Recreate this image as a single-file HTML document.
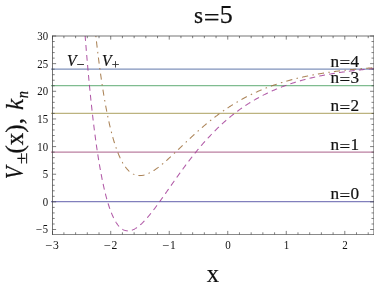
<!DOCTYPE html>
<html><head><meta charset="utf-8"><title>plot</title>
<style>
html,body{margin:0;padding:0;background:#fff;}
body{width:374px;height:287px;overflow:hidden;position:relative;font-family:"Liberation Serif",serif;}
</style></head><body>
<svg width="374" height="287" viewBox="0 0 374 287" style="display:block;position:absolute;left:0;top:0;will-change:transform">
<rect x="0" y="0" width="374" height="287" fill="#ffffff"/>
<defs><clipPath id="c"><rect x="52.5" y="36.0" width="321.2" height="198.5"/></clipPath></defs>
<line x1="51.00" y1="201.50" x2="374.70" y2="201.50" stroke="#3f3d99" stroke-width="1.25" stroke-opacity="0.66"/>
<line x1="51.00" y1="152.05" x2="374.70" y2="152.05" stroke="#993d71" stroke-width="1.25" stroke-opacity="0.66"/>
<line x1="51.00" y1="113.40" x2="374.70" y2="113.40" stroke="#998b3d" stroke-width="1.25" stroke-opacity="0.66"/>
<line x1="51.00" y1="85.50" x2="374.70" y2="85.50" stroke="#3d9956" stroke-width="1.25" stroke-opacity="0.66"/>
<line x1="51.00" y1="69.00" x2="374.70" y2="69.00" stroke="#3d5a99" stroke-width="1.25" stroke-opacity="0.66"/>
<g clip-path="url(#c)" fill="none">
<path d="M85.15,36.00 L85.64,42.10 L86.12,48.06 L86.60,53.88 L87.08,59.55 L87.56,65.09 L88.04,70.49 L88.53,75.76 L89.01,80.90 L89.49,85.91 L89.97,90.80 L90.45,95.56 L90.93,100.20 L91.41,104.73 L91.90,109.14 L92.38,113.43 L92.86,117.62 L93.34,121.69 L93.82,125.66 L94.30,129.52 L94.78,133.28 L95.27,136.94 L95.75,140.50 L96.23,143.97 L96.71,147.33 L97.19,150.61 L97.67,153.79 L98.16,156.88 L98.64,159.89 L99.12,162.81 L99.60,165.64 L100.08,168.39 L100.56,171.07 L101.04,173.66 L101.53,176.17 L102.01,178.61 L102.49,180.97 L102.97,183.26 L103.45,185.48 L103.93,187.62 L104.41,189.70 L104.90,191.71 L105.38,193.66 L105.86,195.53 L106.34,197.35 L106.82,199.10 L107.30,200.80 L107.79,202.43 L108.27,204.01 L108.75,205.52 L109.23,206.99 L109.71,208.39 L110.19,209.75 L110.67,211.05 L111.16,212.30 L111.64,213.49 L112.12,214.64 L112.60,215.75 L113.08,216.80 L113.56,217.81 L114.05,218.77 L114.53,219.69 L115.01,220.57 L115.49,221.40 L115.97,222.19 L116.45,222.94 L116.93,223.65 L117.42,224.33 L117.90,224.96 L118.38,225.56 L118.86,226.12 L119.34,226.65 L119.82,227.14 L120.30,227.60 L120.79,228.02 L121.27,228.41 L121.75,228.77 L122.23,229.10 L122.71,229.40 L123.19,229.67 L123.68,229.91 L124.16,230.13 L124.64,230.31 L125.12,230.47 L125.60,230.60 L126.08,230.71 L126.56,230.79 L127.05,230.85 L127.53,230.89 L128.01,230.90 L128.49,230.89 L128.97,230.85 L129.45,230.80 L129.93,230.72 L130.42,230.62 L130.90,230.51 L131.38,230.37 L131.86,230.21 L132.34,230.04 L132.82,229.85 L133.31,229.64 L133.79,229.41 L134.27,229.17 L134.75,228.91 L135.23,228.64 L135.71,228.35 L136.19,228.04 L136.68,227.72 L137.16,227.39 L137.64,227.04 L138.12,226.68 L138.60,226.30 L139.08,225.92 L139.56,225.52 L140.05,225.11 L140.53,224.68 L141.01,224.25 L141.49,223.81 L141.97,223.35 L142.45,222.88 L142.94,222.41 L143.42,221.92 L143.90,221.43 L144.38,220.93 L144.86,220.41 L145.34,219.89 L145.82,219.36 L146.31,218.83 L146.79,218.28 L147.27,217.73 L147.75,217.17 L148.23,216.61 L148.71,216.03 L149.20,215.45 L149.68,214.87 L150.16,214.28 L150.64,213.68 L151.12,213.08 L151.60,212.47 L152.08,211.86 L152.57,211.24 L153.05,210.62 L153.53,209.99 L154.01,209.36 L154.49,208.72 L154.97,208.08 L155.45,207.44 L155.94,206.80 L156.42,206.15 L156.90,205.49 L157.38,204.84 L157.86,204.18 L158.34,203.52 L158.83,202.85 L159.31,202.18 L159.79,201.52 L160.27,200.84 L160.75,200.17 L161.23,199.50 L161.71,198.82 L162.20,198.14 L162.68,197.46 L163.16,196.78 L163.64,196.10 L164.12,195.41 L164.60,194.73 L165.08,194.05 L165.57,193.36 L166.05,192.67 L166.53,191.99 L167.01,191.30 L167.49,190.61 L167.97,189.92 L168.46,189.24 L168.94,188.55 L169.42,187.86 L169.90,187.17 L170.38,186.48 L170.86,185.80 L171.34,185.11 L171.83,184.42 L172.31,183.74 L172.79,183.05 L173.27,182.37 L173.75,181.68 L174.23,181.00 L174.72,180.32 L175.20,179.64 L175.68,178.96 L176.16,178.28 L176.64,177.60 L177.12,176.93 L177.60,176.25 L178.09,175.58 L178.57,174.91 L179.05,174.24 L179.53,173.57 L180.01,172.90 L180.49,172.24 L180.97,171.57 L181.46,170.91 L181.94,170.25 L182.42,169.59 L182.90,168.94 L183.38,168.28 L183.86,167.63 L184.35,166.98 L184.83,166.33 L185.31,165.68 L185.79,165.04 L186.27,164.40 L186.75,163.76 L187.23,163.12 L187.72,162.48 L188.20,161.85 L188.68,161.22 L189.16,160.59 L189.64,159.96 L190.12,159.34 L190.60,158.72 L191.09,158.10 L191.57,157.48 L192.05,156.87 L192.53,156.26 L193.01,155.65 L193.49,155.04 L193.98,154.44 L194.46,153.83 L194.94,153.24 L195.42,152.64 L195.90,152.05 L196.38,151.46 L196.86,150.87 L197.35,150.28 L197.83,149.70 L198.31,149.12 L198.79,148.54 L199.27,147.97 L199.75,147.39 L200.24,146.83 L200.72,146.26 L201.20,145.69 L201.68,145.13 L202.16,144.58 L202.64,144.02 L203.12,143.47 L203.61,142.92 L204.09,142.37 L204.57,141.83 L205.05,141.29 L205.53,140.75 L206.01,140.21 L206.49,139.68 L206.98,139.15 L207.46,138.62 L207.94,138.10 L208.42,137.57 L208.90,137.06 L209.38,136.54 L209.87,136.03 L210.35,135.52 L210.83,135.01 L211.31,134.50 L211.79,134.00 L212.27,133.50 L212.75,133.01 L213.24,132.51 L213.72,132.02 L214.20,131.54 L214.68,131.05 L215.16,130.57 L215.64,130.09 L216.12,129.61 L216.61,129.14 L217.09,128.67 L217.57,128.20 L218.05,127.74 L218.53,127.27 L219.01,126.81 L219.50,126.36 L219.98,125.90 L220.46,125.45 L220.94,125.00 L221.42,124.56 L221.90,124.11 L222.38,123.67 L222.87,123.23 L223.35,122.80 L223.83,122.37 L224.31,121.94 L224.79,121.51 L225.27,121.08 L225.76,120.66 L226.24,120.24 L226.72,119.83 L227.20,119.41 L227.68,119.00 L228.16,118.59 L228.64,118.19 L229.13,117.78 L229.61,117.38 L230.09,116.99 L230.57,116.59 L231.05,116.20 L231.53,115.81 L232.01,115.42 L232.50,115.03 L232.98,114.65 L233.46,114.27 L233.94,113.89 L234.42,113.52 L234.90,113.14 L235.39,112.77 L235.87,112.41 L236.35,112.04 L236.83,111.68 L237.31,111.32 L237.79,110.96 L238.27,110.60 L238.76,110.25 L239.24,109.90 L239.72,109.55 L240.20,109.20 L240.68,108.86 L241.16,108.52 L241.64,108.18 L242.13,107.84 L242.61,107.51 L243.09,107.17 L243.57,106.84 L244.05,106.52 L244.53,106.19 L245.02,105.87 L245.50,105.55 L245.98,105.23 L246.46,104.91 L246.94,104.60 L247.42,104.28 L247.90,103.97 L248.39,103.67 L248.87,103.36 L249.35,103.06 L249.83,102.76 L250.31,102.46 L250.79,102.16 L251.28,101.86 L251.76,101.57 L252.24,101.28 L252.72,100.99 L253.20,100.70 L253.68,100.42 L254.16,100.14 L254.65,99.86 L255.13,99.58 L255.61,99.30 L256.09,99.02 L256.57,98.75 L257.05,98.48 L257.53,98.21 L258.02,97.94 L258.50,97.68 L258.98,97.42 L259.46,97.16 L259.94,96.90 L260.42,96.64 L260.91,96.38 L261.39,96.13 L261.87,95.88 L262.35,95.63 L262.83,95.38 L263.31,95.13 L263.79,94.89 L264.28,94.64 L264.76,94.40 L265.24,94.16 L265.72,93.93 L266.20,93.69 L266.68,93.46 L267.16,93.22 L267.65,92.99 L268.13,92.76 L268.61,92.54 L269.09,92.31 L269.57,92.09 L270.05,91.87 L270.54,91.64 L271.02,91.43 L271.50,91.21 L271.98,90.99 L272.46,90.78 L272.94,90.57 L273.42,90.35 L273.91,90.15 L274.39,89.94 L274.87,89.73 L275.35,89.53 L275.83,89.32 L276.31,89.12 L276.80,88.92 L277.28,88.72 L277.76,88.53 L278.24,88.33 L278.72,88.14 L279.20,87.94 L279.68,87.75 L280.17,87.56 L280.65,87.37 L281.13,87.19 L281.61,87.00 L282.09,86.82 L282.57,86.63 L283.05,86.45 L283.54,86.27 L284.02,86.09 L284.50,85.92 L284.98,85.74 L285.46,85.56 L285.94,85.39 L286.43,85.22 L286.91,85.05 L287.39,84.88 L287.87,84.71 L288.35,84.54 L288.83,84.38 L289.31,84.21 L289.80,84.05 L290.28,83.89 L290.76,83.73 L291.24,83.57 L291.72,83.41 L292.20,83.25 L292.68,83.10 L293.17,82.94 L293.65,82.79 L294.13,82.64 L294.61,82.49 L295.09,82.34 L295.57,82.19 L296.06,82.04 L296.54,81.89 L297.02,81.75 L297.50,81.61 L297.98,81.46 L298.46,81.32 L298.94,81.18 L299.43,81.04 L299.91,80.90 L300.39,80.76 L300.87,80.63 L301.35,80.49 L301.83,80.36 L302.32,80.22 L302.80,80.09 L303.28,79.96 L303.76,79.83 L304.24,79.70 L304.72,79.57 L305.20,79.45 L305.69,79.32 L306.17,79.19 L306.65,79.07 L307.13,78.95 L307.61,78.82 L308.09,78.70 L308.57,78.58 L309.06,78.46 L309.54,78.34 L310.02,78.23 L310.50,78.11 L310.98,77.99 L311.46,77.88 L311.95,77.76 L312.43,77.65 L312.91,77.54 L313.39,77.43 L313.87,77.32 L314.35,77.21 L314.83,77.10 L315.32,76.99 L315.80,76.88 L316.28,76.78 L316.76,76.67 L317.24,76.57 L317.72,76.46 L318.20,76.36 L318.69,76.26 L319.17,76.16 L319.65,76.06 L320.13,75.96 L320.61,75.86 L321.09,75.76 L321.58,75.66 L322.06,75.57 L322.54,75.47 L323.02,75.37 L323.50,75.28 L323.98,75.19 L324.46,75.09 L324.95,75.00 L325.43,74.91 L325.91,74.82 L326.39,74.73 L326.87,74.64 L327.35,74.55 L327.84,74.46 L328.32,74.38 L328.80,74.29 L329.28,74.20 L329.76,74.12 L330.24,74.03 L330.72,73.95 L331.21,73.87 L331.69,73.78 L332.17,73.70 L332.65,73.62 L333.13,73.54 L333.61,73.46 L334.09,73.38 L334.58,73.30 L335.06,73.23 L335.54,73.15 L336.02,73.07 L336.50,73.00 L336.98,72.92 L337.47,72.84 L337.95,72.77 L338.43,72.70 L338.91,72.62 L339.39,72.55 L339.87,72.48 L340.35,72.41 L340.84,72.34 L341.32,72.27 L341.80,72.20 L342.28,72.13 L342.76,72.06 L343.24,71.99 L343.72,71.92 L344.21,71.86 L344.69,71.79 L345.17,71.72 L345.65,71.66 L346.13,71.59 L346.61,71.53 L347.10,71.47 L347.58,71.40 L348.06,71.34 L348.54,71.28 L349.02,71.22 L349.50,71.15 L349.98,71.09 L350.47,71.03 L350.95,70.97 L351.43,70.91 L351.91,70.85 L352.39,70.80 L352.87,70.74 L353.36,70.68 L353.84,70.62 L354.32,70.57 L354.80,70.51 L355.28,70.46 L355.76,70.40 L356.24,70.35 L356.73,70.29 L357.21,70.24 L357.69,70.18 L358.17,70.13 L358.65,70.08 L359.13,70.03 L359.61,69.97 L360.10,69.92 L360.58,69.87 L361.06,69.82 L361.54,69.77 L362.02,69.72 L362.50,69.67 L362.99,69.62 L363.47,69.57 L363.95,69.53 L364.43,69.48 L364.91,69.43 L365.39,69.38 L365.87,69.34 L366.36,69.29 L366.84,69.25 L367.32,69.20 L367.80,69.15 L368.28,69.11 L368.76,69.07 L369.24,69.02 L369.73,68.98 L370.21,68.93 L370.69,68.89 L371.17,68.85 L371.65,68.81 L372.13,68.76 L372.62,68.72 L373.10,68.68 L373.58,68.64 L374.06,68.60" stroke="#a33d98" stroke-width="1.05" stroke-dasharray="5.8 4.2" stroke-dashoffset="0.9" stroke-opacity="0.85"/>
<path d="M95.86,36.00 L96.32,40.15 L96.79,44.20 L97.25,48.16 L97.72,52.02 L98.18,55.80 L98.64,59.49 L99.11,63.09 L99.57,66.61 L100.03,70.05 L100.50,73.41 L100.96,76.68 L101.42,79.88 L101.89,83.00 L102.35,86.04 L102.82,89.01 L103.28,91.91 L103.74,94.73 L104.21,97.48 L104.67,100.17 L105.13,102.79 L105.60,105.34 L106.06,107.83 L106.53,110.25 L106.99,112.61 L107.45,114.91 L107.92,117.15 L108.38,119.33 L108.84,121.45 L109.31,123.51 L109.77,125.52 L110.23,127.47 L110.70,129.37 L111.16,131.22 L111.63,133.01 L112.09,134.76 L112.55,136.45 L113.02,138.10 L113.48,139.69 L113.94,141.24 L114.41,142.75 L114.87,144.21 L115.33,145.62 L115.80,147.00 L116.26,148.32 L116.73,149.61 L117.19,150.86 L117.65,152.06 L118.12,153.23 L118.58,154.36 L119.04,155.45 L119.51,156.50 L119.97,157.52 L120.44,158.50 L120.90,159.45 L121.36,160.36 L121.83,161.24 L122.29,162.09 L122.75,162.91 L123.22,163.69 L123.68,164.44 L124.14,165.16 L124.61,165.86 L125.07,166.52 L125.54,167.16 L126.00,167.76 L126.46,168.34 L126.93,168.90 L127.39,169.42 L127.85,169.93 L128.32,170.40 L128.78,170.86 L129.24,171.29 L129.71,171.69 L130.17,172.07 L130.64,172.43 L131.10,172.77 L131.56,173.09 L132.03,173.38 L132.49,173.66 L132.95,173.91 L133.42,174.15 L133.88,174.37 L134.35,174.56 L134.81,174.74 L135.27,174.90 L135.74,175.05 L136.20,175.17 L136.66,175.28 L137.13,175.37 L137.59,175.45 L138.05,175.51 L138.52,175.56 L138.98,175.59 L139.45,175.60 L139.91,175.61 L140.37,175.59 L140.84,175.57 L141.30,175.53 L141.76,175.48 L142.23,175.41 L142.69,175.34 L143.15,175.25 L143.62,175.15 L144.08,175.04 L144.55,174.91 L145.01,174.78 L145.47,174.63 L145.94,174.48 L146.40,174.31 L146.86,174.14 L147.33,173.95 L147.79,173.76 L148.26,173.55 L148.72,173.34 L149.18,173.12 L149.65,172.89 L150.11,172.66 L150.57,172.41 L151.04,172.16 L151.50,171.90 L151.96,171.63 L152.43,171.35 L152.89,171.07 L153.36,170.78 L153.82,170.49 L154.28,170.19 L154.75,169.88 L155.21,169.57 L155.67,169.25 L156.14,168.92 L156.60,168.59 L157.06,168.26 L157.53,167.92 L157.99,167.57 L158.46,167.22 L158.92,166.86 L159.38,166.51 L159.85,166.14 L160.31,165.77 L160.77,165.40 L161.24,165.03 L161.70,164.65 L162.17,164.26 L162.63,163.88 L163.09,163.49 L163.56,163.09 L164.02,162.70 L164.48,162.30 L164.95,161.90 L165.41,161.49 L165.87,161.08 L166.34,160.67 L166.80,160.26 L167.27,159.85 L167.73,159.43 L168.19,159.01 L168.66,158.59 L169.12,158.17 L169.58,157.74 L170.05,157.31 L170.51,156.89 L170.97,156.46 L171.44,156.03 L171.90,155.59 L172.37,155.16 L172.83,154.72 L173.29,154.29 L173.76,153.85 L174.22,153.41 L174.68,152.98 L175.15,152.54 L175.61,152.10 L176.08,151.66 L176.54,151.21 L177.00,150.77 L177.47,150.33 L177.93,149.89 L178.39,149.44 L178.86,149.00 L179.32,148.56 L179.78,148.11 L180.25,147.67 L180.71,147.23 L181.18,146.78 L181.64,146.34 L182.10,145.90 L182.57,145.45 L183.03,145.01 L183.49,144.57 L183.96,144.13 L184.42,143.68 L184.88,143.24 L185.35,142.80 L185.81,142.36 L186.28,141.92 L186.74,141.48 L187.20,141.05 L187.67,140.61 L188.13,140.17 L188.59,139.73 L189.06,139.30 L189.52,138.86 L189.98,138.43 L190.45,138.00 L190.91,137.57 L191.38,137.14 L191.84,136.71 L192.30,136.28 L192.77,135.85 L193.23,135.42 L193.69,135.00 L194.16,134.57 L194.62,134.15 L195.09,133.73 L195.55,133.31 L196.01,132.89 L196.48,132.47 L196.94,132.05 L197.40,131.64 L197.87,131.22 L198.33,130.81 L198.79,130.40 L199.26,129.99 L199.72,129.58 L200.19,129.17 L200.65,128.76 L201.11,128.36 L201.58,127.96 L202.04,127.55 L202.50,127.15 L202.97,126.76 L203.43,126.36 L203.89,125.96 L204.36,125.57 L204.82,125.18 L205.29,124.79 L205.75,124.40 L206.21,124.01 L206.68,123.62 L207.14,123.24 L207.60,122.86 L208.07,122.47 L208.53,122.10 L209.00,121.72 L209.46,121.34 L209.92,120.97 L210.39,120.59 L210.85,120.22 L211.31,119.85 L211.78,119.49 L212.24,119.12 L212.70,118.76 L213.17,118.39 L213.63,118.03 L214.10,117.67 L214.56,117.32 L215.02,116.96 L215.49,116.61 L215.95,116.26 L216.41,115.90 L216.88,115.56 L217.34,115.21 L217.80,114.86 L218.27,114.52 L218.73,114.18 L219.20,113.84 L219.66,113.50 L220.12,113.16 L220.59,112.83 L221.05,112.50 L221.51,112.17 L221.98,111.84 L222.44,111.51 L222.91,111.18 L223.37,110.86 L223.83,110.54 L224.30,110.22 L224.76,109.90 L225.22,109.58 L225.69,109.27 L226.15,108.95 L226.61,108.64 L227.08,108.33 L227.54,108.02 L228.01,107.71 L228.47,107.41 L228.93,107.11 L229.40,106.81 L229.86,106.51 L230.32,106.21 L230.79,105.91 L231.25,105.62 L231.71,105.32 L232.18,105.03 L232.64,104.74 L233.11,104.46 L233.57,104.17 L234.03,103.89 L234.50,103.60 L234.96,103.32 L235.42,103.04 L235.89,102.77 L236.35,102.49 L236.82,102.21 L237.28,101.94 L237.74,101.67 L238.21,101.40 L238.67,101.13 L239.13,100.87 L239.60,100.60 L240.06,100.34 L240.52,100.08 L240.99,99.82 L241.45,99.56 L241.92,99.31 L242.38,99.05 L242.84,98.80 L243.31,98.55 L243.77,98.30 L244.23,98.05 L244.70,97.80 L245.16,97.56 L245.62,97.31 L246.09,97.07 L246.55,96.83 L247.02,96.59 L247.48,96.35 L247.94,96.12 L248.41,95.88 L248.87,95.65 L249.33,95.42 L249.80,95.19 L250.26,94.96 L250.73,94.73 L251.19,94.51 L251.65,94.28 L252.12,94.06 L252.58,93.84 L253.04,93.62 L253.51,93.40 L253.97,93.18 L254.43,92.97 L254.90,92.75 L255.36,92.54 L255.83,92.33 L256.29,92.12 L256.75,91.91 L257.22,91.71 L257.68,91.50 L258.14,91.30 L258.61,91.09 L259.07,90.89 L259.53,90.69 L260.00,90.49 L260.46,90.29 L260.93,90.10 L261.39,89.90 L261.85,89.71 L262.32,89.52 L262.78,89.33 L263.24,89.14 L263.71,88.95 L264.17,88.76 L264.64,88.58 L265.10,88.39 L265.56,88.21 L266.03,88.03 L266.49,87.85 L266.95,87.67 L267.42,87.49 L267.88,87.31 L268.34,87.14 L268.81,86.96 L269.27,86.79 L269.74,86.62 L270.20,86.44 L270.66,86.27 L271.13,86.11 L271.59,85.94 L272.05,85.77 L272.52,85.61 L272.98,85.44 L273.44,85.28 L273.91,85.12 L274.37,84.96 L274.84,84.80 L275.30,84.64 L275.76,84.48 L276.23,84.33 L276.69,84.17 L277.15,84.02 L277.62,83.87 L278.08,83.71 L278.55,83.56 L279.01,83.41 L279.47,83.27 L279.94,83.12 L280.40,82.97 L280.86,82.83 L281.33,82.68 L281.79,82.54 L282.25,82.40 L282.72,82.25 L283.18,82.11 L283.65,81.98 L284.11,81.84 L284.57,81.70 L285.04,81.56 L285.50,81.43 L285.96,81.29 L286.43,81.16 L286.89,81.03 L287.35,80.90 L287.82,80.77 L288.28,80.64 L288.75,80.51 L289.21,80.38 L289.67,80.25 L290.14,80.13 L290.60,80.00 L291.06,79.88 L291.53,79.76 L291.99,79.63 L292.45,79.51 L292.92,79.39 L293.38,79.27 L293.85,79.15 L294.31,79.04 L294.77,78.92 L295.24,78.80 L295.70,78.69 L296.16,78.57 L296.63,78.46 L297.09,78.35 L297.56,78.23 L298.02,78.12 L298.48,78.01 L298.95,77.90 L299.41,77.79 L299.87,77.69 L300.34,77.58 L300.80,77.47 L301.26,77.37 L301.73,77.26 L302.19,77.16 L302.66,77.06 L303.12,76.95 L303.58,76.85 L304.05,76.75 L304.51,76.65 L304.97,76.55 L305.44,76.45 L305.90,76.35 L306.36,76.26 L306.83,76.16 L307.29,76.06 L307.76,75.97 L308.22,75.87 L308.68,75.78 L309.15,75.69 L309.61,75.60 L310.07,75.50 L310.54,75.41 L311.00,75.32 L311.47,75.23 L311.93,75.14 L312.39,75.06 L312.86,74.97 L313.32,74.88 L313.78,74.79 L314.25,74.71 L314.71,74.62 L315.17,74.54 L315.64,74.46 L316.10,74.37 L316.57,74.29 L317.03,74.21 L317.49,74.13 L317.96,74.05 L318.42,73.97 L318.88,73.89 L319.35,73.81 L319.81,73.73 L320.27,73.65 L320.74,73.57 L321.20,73.50 L321.67,73.42 L322.13,73.35 L322.59,73.27 L323.06,73.20 L323.52,73.12 L323.98,73.05 L324.45,72.98 L324.91,72.91 L325.38,72.83 L325.84,72.76 L326.30,72.69 L326.77,72.62 L327.23,72.55 L327.69,72.48 L328.16,72.42 L328.62,72.35 L329.08,72.28 L329.55,72.21 L330.01,72.15 L330.48,72.08 L330.94,72.02 L331.40,71.95 L331.87,71.89 L332.33,71.82 L332.79,71.76 L333.26,71.70 L333.72,71.64 L334.18,71.57 L334.65,71.51 L335.11,71.45 L335.58,71.39 L336.04,71.33 L336.50,71.27 L336.97,71.21 L337.43,71.15 L337.89,71.09 L338.36,71.04 L338.82,70.98 L339.29,70.92 L339.75,70.87 L340.21,70.81 L340.68,70.75 L341.14,70.70 L341.60,70.64 L342.07,70.59 L342.53,70.54 L342.99,70.48 L343.46,70.43 L343.92,70.38 L344.39,70.32 L344.85,70.27 L345.31,70.22 L345.78,70.17 L346.24,70.12 L346.70,70.07 L347.17,70.02 L347.63,69.97 L348.09,69.92 L348.56,69.87 L349.02,69.82 L349.49,69.77 L349.95,69.73 L350.41,69.68 L350.88,69.63 L351.34,69.59 L351.80,69.54 L352.27,69.49 L352.73,69.45 L353.20,69.40 L353.66,69.36 L354.12,69.31 L354.59,69.27 L355.05,69.23 L355.51,69.18 L355.98,69.14 L356.44,69.10 L356.90,69.05 L357.37,69.01 L357.83,68.97 L358.30,68.93 L358.76,68.89 L359.22,68.85 L359.69,68.81 L360.15,68.77 L360.61,68.73 L361.08,68.69 L361.54,68.65 L362.00,68.61 L362.47,68.57 L362.93,68.53 L363.40,68.49 L363.86,68.45 L364.32,68.42 L364.79,68.38 L365.25,68.34 L365.71,68.31 L366.18,68.27 L366.64,68.23 L367.11,68.20 L367.57,68.16 L368.03,68.13 L368.50,68.09 L368.96,68.06 L369.42,68.02 L369.89,67.99 L370.35,67.95 L370.81,67.92 L371.28,67.89 L371.74,67.85 L372.21,67.82 L372.67,67.79 L373.13,67.76 L373.60,67.72 L374.06,67.69" stroke="#9c6d3a" stroke-width="1.05" stroke-dasharray="1.5 4.15 6.2 4.35" stroke-dashoffset="0.2" stroke-opacity="0.85"/>
</g>
<path d="M52.5,35.6 V234.8 M52.1,36.0 H374.09999999999997" fill="none" stroke="#3a3a3a" stroke-width="0.7"/>
<path d="M52.1,234.5 H374.09999999999997" fill="none" stroke="#3a3a3a" stroke-width="0.7" stroke-opacity="0.85"/>
<path d="M373.84999999999997,35.6 V234.9" fill="none" stroke="#3a3a3a" stroke-width="0.7"/>
<path d="M52.50,234.5 v-3.6 M52.50,36.0 v3.6 M63.90,234.5 v-2.2 M63.90,36.0 v2.2 M75.61,234.5 v-2.2 M75.61,36.0 v2.2 M87.31,234.5 v-2.2 M87.31,36.0 v2.2 M99.02,234.5 v-2.2 M99.02,36.0 v2.2 M110.72,234.5 v-3.6 M110.72,36.0 v3.6 M122.42,234.5 v-2.2 M122.42,36.0 v2.2 M134.13,234.5 v-2.2 M134.13,36.0 v2.2 M145.83,234.5 v-2.2 M145.83,36.0 v2.2 M157.54,234.5 v-2.2 M157.54,36.0 v2.2 M169.24,234.5 v-3.6 M169.24,36.0 v3.6 M180.94,234.5 v-2.2 M180.94,36.0 v2.2 M192.65,234.5 v-2.2 M192.65,36.0 v2.2 M204.35,234.5 v-2.2 M204.35,36.0 v2.2 M216.06,234.5 v-2.2 M216.06,36.0 v2.2 M227.76,234.5 v-3.6 M227.76,36.0 v3.6 M239.46,234.5 v-2.2 M239.46,36.0 v2.2 M251.17,234.5 v-2.2 M251.17,36.0 v2.2 M262.87,234.5 v-2.2 M262.87,36.0 v2.2 M274.58,234.5 v-2.2 M274.58,36.0 v2.2 M286.28,234.5 v-3.6 M286.28,36.0 v3.6 M297.98,234.5 v-2.2 M297.98,36.0 v2.2 M309.69,234.5 v-2.2 M309.69,36.0 v2.2 M321.39,234.5 v-2.2 M321.39,36.0 v2.2 M333.10,234.5 v-2.2 M333.10,36.0 v2.2 M344.80,234.5 v-3.6 M344.80,36.0 v3.6 M356.50,234.5 v-2.2 M356.50,36.0 v2.2 M368.21,234.5 v-2.2 M368.21,36.0 v2.2 M52.5,229.51 h3.6 M373.7,229.51 h-3.6 M52.5,223.99 h2.2 M373.7,223.99 h-2.2 M52.5,218.46 h2.2 M373.7,218.46 h-2.2 M52.5,212.93 h2.2 M373.7,212.93 h-2.2 M52.5,207.40 h2.2 M373.7,207.40 h-2.2 M52.5,201.87 h3.6 M373.7,201.87 h-3.6 M52.5,196.34 h2.2 M373.7,196.34 h-2.2 M52.5,190.81 h2.2 M373.7,190.81 h-2.2 M52.5,185.28 h2.2 M373.7,185.28 h-2.2 M52.5,179.75 h2.2 M373.7,179.75 h-2.2 M52.5,174.22 h3.6 M373.7,174.22 h-3.6 M52.5,168.70 h2.2 M373.7,168.70 h-2.2 M52.5,163.17 h2.2 M373.7,163.17 h-2.2 M52.5,157.64 h2.2 M373.7,157.64 h-2.2 M52.5,152.11 h2.2 M373.7,152.11 h-2.2 M52.5,146.58 h3.6 M373.7,146.58 h-3.6 M52.5,141.05 h2.2 M373.7,141.05 h-2.2 M52.5,135.52 h2.2 M373.7,135.52 h-2.2 M52.5,129.99 h2.2 M373.7,129.99 h-2.2 M52.5,124.46 h2.2 M373.7,124.46 h-2.2 M52.5,118.94 h3.6 M373.7,118.94 h-3.6 M52.5,113.41 h2.2 M373.7,113.41 h-2.2 M52.5,107.88 h2.2 M373.7,107.88 h-2.2 M52.5,102.35 h2.2 M373.7,102.35 h-2.2 M52.5,96.82 h2.2 M373.7,96.82 h-2.2 M52.5,91.29 h3.6 M373.7,91.29 h-3.6 M52.5,85.76 h2.2 M373.7,85.76 h-2.2 M52.5,80.23 h2.2 M373.7,80.23 h-2.2 M52.5,74.70 h2.2 M373.7,74.70 h-2.2 M52.5,69.17 h2.2 M373.7,69.17 h-2.2 M52.5,63.64 h3.6 M373.7,63.64 h-3.6 M52.5,58.12 h2.2 M373.7,58.12 h-2.2 M52.5,52.59 h2.2 M373.7,52.59 h-2.2 M52.5,47.06 h2.2 M373.7,47.06 h-2.2 M52.5,41.53 h2.2 M373.7,41.53 h-2.2 M52.5,36.00 h3.6 M373.7,36.00 h-3.6" fill="none" stroke="#3a3a3a" stroke-width="0.65"/>
<text transform="translate(45.57,249.90) scale(1.048,1.03)" font-family="Liberation Serif, serif" font-size="12" fill="#111111">−</text><text transform="translate(53.01,248.90) scale(0.97,1.03)" font-family="Liberation Serif, serif" font-size="12" fill="#111111">3</text>
<text transform="translate(104.09,249.90) scale(1.048,1.03)" font-family="Liberation Serif, serif" font-size="12" fill="#111111">−</text><text transform="translate(111.53,248.90) scale(0.97,1.03)" font-family="Liberation Serif, serif" font-size="12" fill="#111111">2</text>
<text transform="translate(162.61,249.90) scale(1.048,1.03)" font-family="Liberation Serif, serif" font-size="12" fill="#111111">−</text><text transform="translate(170.05,248.90) scale(0.97,1.03)" font-family="Liberation Serif, serif" font-size="12" fill="#111111">1</text>
<text transform="translate(225.30,248.90) scale(0.92,1.03)" font-family="Liberation Serif, serif" font-size="12" fill="#111111">0</text>
<text transform="translate(283.82,248.90) scale(0.92,1.03)" font-family="Liberation Serif, serif" font-size="12" fill="#111111">1</text>
<text transform="translate(342.34,248.90) scale(0.92,1.03)" font-family="Liberation Serif, serif" font-size="12" fill="#111111">2</text>
<text transform="translate(36.04,234.31) scale(0.950,1.03)" font-family="Liberation Serif, serif" font-size="12" fill="#111111">−</text><text transform="translate(42.82,233.31) scale(0.88,1.03)" font-family="Liberation Serif, serif" font-size="12" fill="#111111">5</text>
<text transform="translate(42.70,206.07) scale(0.9,1.03)" font-family="Liberation Serif, serif" font-size="12" fill="#111111">0</text>
<text transform="translate(42.70,178.42) scale(0.9,1.03)" font-family="Liberation Serif, serif" font-size="12" fill="#111111">5</text>
<text transform="translate(37.30,150.78) scale(0.9,1.03)" font-family="Liberation Serif, serif" font-size="12" fill="#111111">10</text>
<text transform="translate(37.30,123.14) scale(0.9,1.03)" font-family="Liberation Serif, serif" font-size="12" fill="#111111">15</text>
<text transform="translate(37.30,95.49) scale(0.9,1.03)" font-family="Liberation Serif, serif" font-size="12" fill="#111111">20</text>
<text transform="translate(37.30,67.84) scale(0.9,1.03)" font-family="Liberation Serif, serif" font-size="12" fill="#111111">25</text>
<text transform="translate(37.30,40.20) scale(0.9,1.03)" font-family="Liberation Serif, serif" font-size="12" fill="#111111">30</text>
<g font-family="Liberation Serif, serif" fill="#111111" stroke="#111111" stroke-width="0.25"><text x="193.9" y="23.1" font-size="23.2">s</text><text transform="translate(203.7,25.6) scale(1.08,0.95)" font-size="26">=</text><text x="219.8" y="23.1" font-size="26">5</text></g>
<text x="213" y="282.0" font-family="Liberation Serif, serif" font-size="24.6" text-anchor="middle" fill="#111111" stroke="#111111" stroke-width="0.15">x</text>
<g font-family="Liberation Serif, serif" font-size="17.2" fill="#111111" stroke="#111111" stroke-width="0.2"><text x="330.5" y="199.40">n</text><text transform="translate(339.4,201.35) scale(1.1,1.0)">=</text><text x="350.4" y="199.40">0</text></g>
<g font-family="Liberation Serif, serif" font-size="17.2" fill="#111111" stroke="#111111" stroke-width="0.2"><text x="330.5" y="149.95">n</text><text transform="translate(339.4,151.90) scale(1.1,1.0)">=</text><text x="350.4" y="149.95">1</text></g>
<g font-family="Liberation Serif, serif" font-size="17.2" fill="#111111" stroke="#111111" stroke-width="0.2"><text x="330.5" y="110.80">n</text><text transform="translate(339.4,112.75) scale(1.1,1.0)">=</text><text x="350.4" y="110.80">2</text></g>
<g font-family="Liberation Serif, serif" font-size="17.2" fill="#111111" stroke="#111111" stroke-width="0.2"><text x="330.5" y="83.10">n</text><text transform="translate(339.4,85.05) scale(1.1,1.0)">=</text><text x="350.4" y="83.10">3</text></g>
<g font-family="Liberation Serif, serif" font-size="17.2" fill="#111111" stroke="#111111" stroke-width="0.2"><text x="330.5" y="66.50">n</text><text transform="translate(339.4,68.45) scale(1.1,1.0)">=</text><text x="350.4" y="66.50">4</text></g>
<g font-family="Liberation Serif, serif" fill="#111111" stroke="#111111" stroke-width="0.2">
<text transform="translate(67.0,65.7) scale(0.88,1)" font-size="17.7" font-style="italic">V</text>
<text x="76.7" y="68.9" font-size="13.5" stroke-width="0.35">−</text>
<text transform="translate(102.0,65.7) scale(0.88,1)" font-size="17.7" font-style="italic">V</text>
<text x="111.7" y="69.3" font-size="13.5">+</text>
</g>
<g transform="translate(23,178.6) rotate(-90)" font-family="Liberation Serif, serif" fill="#111111" stroke="#111111" stroke-width="0.25">
<text transform="translate(-0.3,0) scale(0.82,1)" x="0" y="0" font-size="25" font-style="italic">V</text>
<text transform="translate(14.4,4.4) scale(1.22,1)" x="0" y="0" font-size="17.5">±</text>
<text x="25.1" y="-0.5" font-size="25">(x),</text>
<text x="68.7" y="0" font-size="25" font-style="italic">k</text>
<text transform="translate(80.4,4.8) scale(0.82,1)" x="0" y="0" font-size="17.5" font-style="italic">n</text>
</g>
</svg>
</body></html>
